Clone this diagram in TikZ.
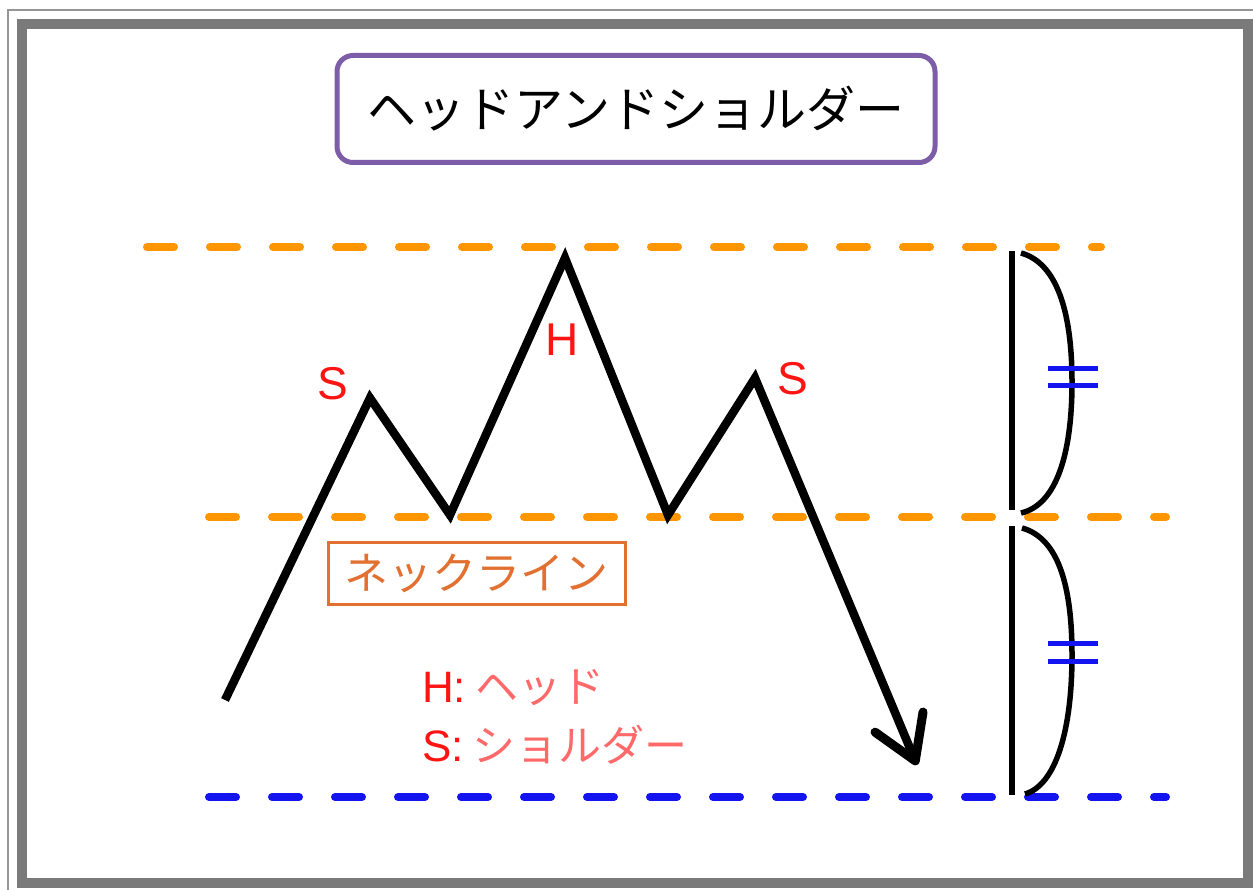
\documentclass[tikz,border=0pt]{standalone}
\usepackage{fontspec}
\setmainfont{Liberation Sans}
\newfontfamily\jp{Noto Sans CJK JP}
\usetikzlibrary{arrows.meta}
\definecolor{framegray}{RGB}{122,122,122}
\definecolor{thingray}{RGB}{150,150,150}
\definecolor{titlepurple}{RGB}{125,92,168}
\definecolor{lineorange}{RGB}{255,150,0}
\definecolor{neckorange}{RGB}{226,112,48}
\definecolor{lineblue}{RGB}{20,20,240}
\definecolor{labred}{RGB}{255,20,20}
\definecolor{kanapink}{RGB}{255,105,105}
\tikzset{
  x=1pt, y=-1pt,
  guide/.style={line width=8pt, line cap=round, dash pattern=on 27pt off 36pt},
  zig/.style={line width=8.5pt, line join=miter},
  bracestroke/.style={line width=5.5pt, black},
  eqmark/.style={line width=5pt, lineblue},
  letter/.style={text=labred, font=\fontsize{46}{50}\selectfont, inner sep=0pt},
}
\begin{document}
\begin{tikzpicture}
\useasboundingbox (0,0) rectangle (1253,890);
\fill[white] (0,0) rectangle (1253,890);
% frames
\draw[thingray, line width=2pt] (8,10) rectangle (1270,910);
\draw[framegray, line width=10pt] (22,24) rectangle (1248,883);

% title
\node[draw=titlepurple, line width=5pt, rounded corners=16pt, minimum width=598pt, minimum height=107pt, inner sep=0pt,
      font=\jp\fontsize{49}{52}\selectfont] (title) at (636,109) {ヘッドアンドショルダー};

% guide lines
\coordinate (t0) at (147,247); \coordinate (t1) at (1101,247);
\coordinate (m0) at (209,517); \coordinate (m1) at (1166,517);
\coordinate (b0) at (209,797); \coordinate (b1) at (1166,797);
\draw[guide, lineorange] (t0) -- (t1);
\draw[guide, lineorange] (m0) -- (m1);
\draw[guide, lineblue] (b0) -- (b1);

% zigzag
\coordinate (p0) at (225,700);
\coordinate (s1) at (370,398);
\coordinate (v1) at (450,515);
\coordinate (h) at (565,258);
\coordinate (v2) at (668,515);
\coordinate (s2) at (755,378);
\coordinate (tip) at (917,765);
\draw[zig, -{Straight Barb[length=42pt, width=52pt, line width=9pt, round]}]
  (p0) -- (s1) -- (v1) -- (h) -- (v2) -- (s2) -- (tip);

% labels
\node[letter] (ls1) at (333,384) {S};
\node[letter] (lh) at (562,340) {H};
\node[letter] (ls2) at (793,379) {S};

% neckline box
\node[draw=neckorange, line width=3pt, text=neckorange, minimum width=297pt, minimum height=62pt, inner sep=0pt,
      font=\jp\fontsize{44}{48}\selectfont] (neck) at (476.5,573) {ネックライン};

% legend
\node[anchor=west, inner sep=0pt] (legH) at (422,688)
  {\textcolor{labred}{\fontsize{44}{48}\selectfont H:}\hspace{9pt}{\jp\fontsize{43}{46}\selectfont\textcolor{kanapink}{ヘッド}}};
\node[anchor=west, inner sep=0pt] (legS) at (422,745)
  {\textcolor{labred}{\fontsize{44}{48}\selectfont S:}\hspace{9pt}{\jp\fontsize{43}{46}\selectfont\textcolor{kanapink}{ショルダー}}};

% right side measure
\coordinate (vt) at (1012,251); \coordinate (vm1) at (1012,510);
\coordinate (vm2) at (1012,526); \coordinate (vb) at (1012,795);
\draw[bracestroke] (vt) -- (vm1);
\draw[bracestroke] (vm2) -- (vb);
\coordinate (ct0) at (1021,253); \coordinate (ct1) at (1072,382); \coordinate (ct2) at (1021,513);
\coordinate (cb0) at (1022,528); \coordinate (cb1) at (1072,655); \coordinate (cb2) at (1025,794);
\draw[bracestroke] (ct0) .. controls (1057,263) and (1072,312) .. (ct1) .. controls (1072,455) and (1056,505) .. (ct2);
\draw[bracestroke] (cb0) .. controls (1058,538) and (1072,585) .. (cb1) .. controls (1072,730) and (1056,785) .. (cb2);
\coordinate (e1a) at (1048,369); \coordinate (e1b) at (1098,369);
\coordinate (e2a) at (1048,386); \coordinate (e2b) at (1098,386);
\coordinate (e3a) at (1048,643); \coordinate (e3b) at (1098,643);
\coordinate (e4a) at (1048,661); \coordinate (e4b) at (1098,661);
\draw[eqmark] (e1a) -- (e1b);
\draw[eqmark] (e2a) -- (e2b);
\draw[eqmark] (e3a) -- (e3b);
\draw[eqmark] (e4a) -- (e4b);
\end{tikzpicture}
\end{document}
